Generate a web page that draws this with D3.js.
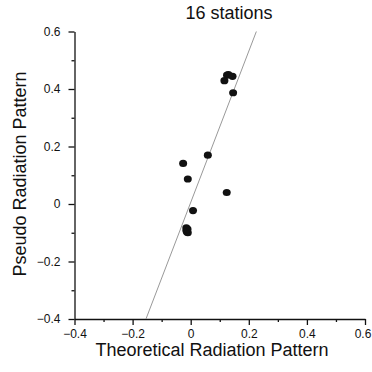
<!DOCTYPE html>
<html>
<head>
<meta charset="utf-8">
<title>16 stations</title>
<script src="https://d3js.org/d3.v7.min.js"></script>
<style>
  body { margin: 0; background: #fff; }
  text { font-family: "Liberation Sans", Arial, sans-serif; fill: #111; }
</style>
</head>
<body>
<svg width="372" height="372"></svg>
<script>
// values
var theoretical = [0.125, 0.130, 0.144, 0.116, 0.146, 0.059, -0.026, -0.010, 0.124, 0.008,
                   -0.015, -0.012, -0.013, -0.010, -0.015, -0.011];
var pseudo      = [0.448, 0.450, 0.444, 0.429, 0.387, 0.170, 0.141, 0.087, 0.040, -0.023,
                   -0.083, -0.090, -0.097, -0.100, -0.092, -0.087];
var fitX = [-0.154, 0.226];
var fitY = [-0.4, 0.6];
var majorTicks = [-0.4, -0.2, 0, 0.2, 0.4, 0.6];
var minorTicks = [-0.3, -0.1, 0.1, 0.3, 0.5];

var svg = d3.select("svg");

var x = d3.scaleLinear().domain([-0.4, 0.6]).range([74.5, 365]);
var y = d3.scaleLinear().domain([-0.4, 0.6]).range([319, 31.5]);

var fmt = function(d) { return d === 0 ? "0" : d3.format(".1f")(d); };

// x axis
var gx = svg.append("g").attr("transform", "translate(0," + y(-0.4) + ")");
gx.call(d3.axisBottom(x).tickValues(majorTicks).tickFormat(fmt).tickSize(6).tickSizeOuter(0).tickPadding(4));
gx.append("g").call(d3.axisBottom(x).tickValues(minorTicks).tickFormat("").tickSize(3).tickSizeOuter(0))
  .select(".domain").remove();
// last label sits right at the edge, pull it in a little
gx.selectAll(".tick text").filter(function(d) { return d === 0.6; }).attr("dx", -2.5);

// y axis
var gy = svg.append("g").attr("transform", "translate(" + x(-0.4) + ",0)");
gy.call(d3.axisLeft(y).tickValues(majorTicks).tickFormat(fmt).tickSize(6).tickSizeOuter(0).tickPadding(8));
gy.append("g").call(d3.axisLeft(y).tickValues(minorTicks).tickFormat("").tickSize(3).tickSizeOuter(0))
  .select(".domain").remove();

svg.selectAll(".domain, .tick line").attr("stroke", "#111").attr("stroke-width", 1.3);
svg.selectAll(".tick text").attr("font-size", "12px").attr("fill", "#111")
  .attr("font-family", "'Liberation Sans', Arial, sans-serif");

// fit line
svg.append("line")
  .attr("x1", x(fitX[0])).attr("y1", y(fitY[0]))
  .attr("x2", x(fitX[1])).attr("y2", y(fitY[1]))
  .attr("stroke", "#999").attr("stroke-width", 1);

// stations
svg.selectAll(".dot")
  .data(d3.range(theoretical.length))
  .enter().append("ellipse")
  .attr("class", "dot")
  .attr("cx", function(i) { return x(theoretical[i]); })
  .attr("cy", function(i) { return y(pseudo[i]); })
  .attr("rx", 4).attr("ry", 3.6)
  .attr("fill", "#111");

// title and labels
svg.append("text")
  .attr("x", 229).attr("y", 19)
  .attr("text-anchor", "middle").attr("font-size", "18px")
  .text("16 stations");

svg.append("text")
  .attr("x", 212).attr("y", 356)
  .attr("text-anchor", "middle").attr("font-size", "18px")
  .text("Theoretical Radiation Pattern");

svg.append("text")
  .attr("transform", "translate(26,174) rotate(-90)")
  .attr("text-anchor", "middle").attr("font-size", "18px")
  .text("Pseudo Radiation Pattern");
</script>
</body>
</html>
